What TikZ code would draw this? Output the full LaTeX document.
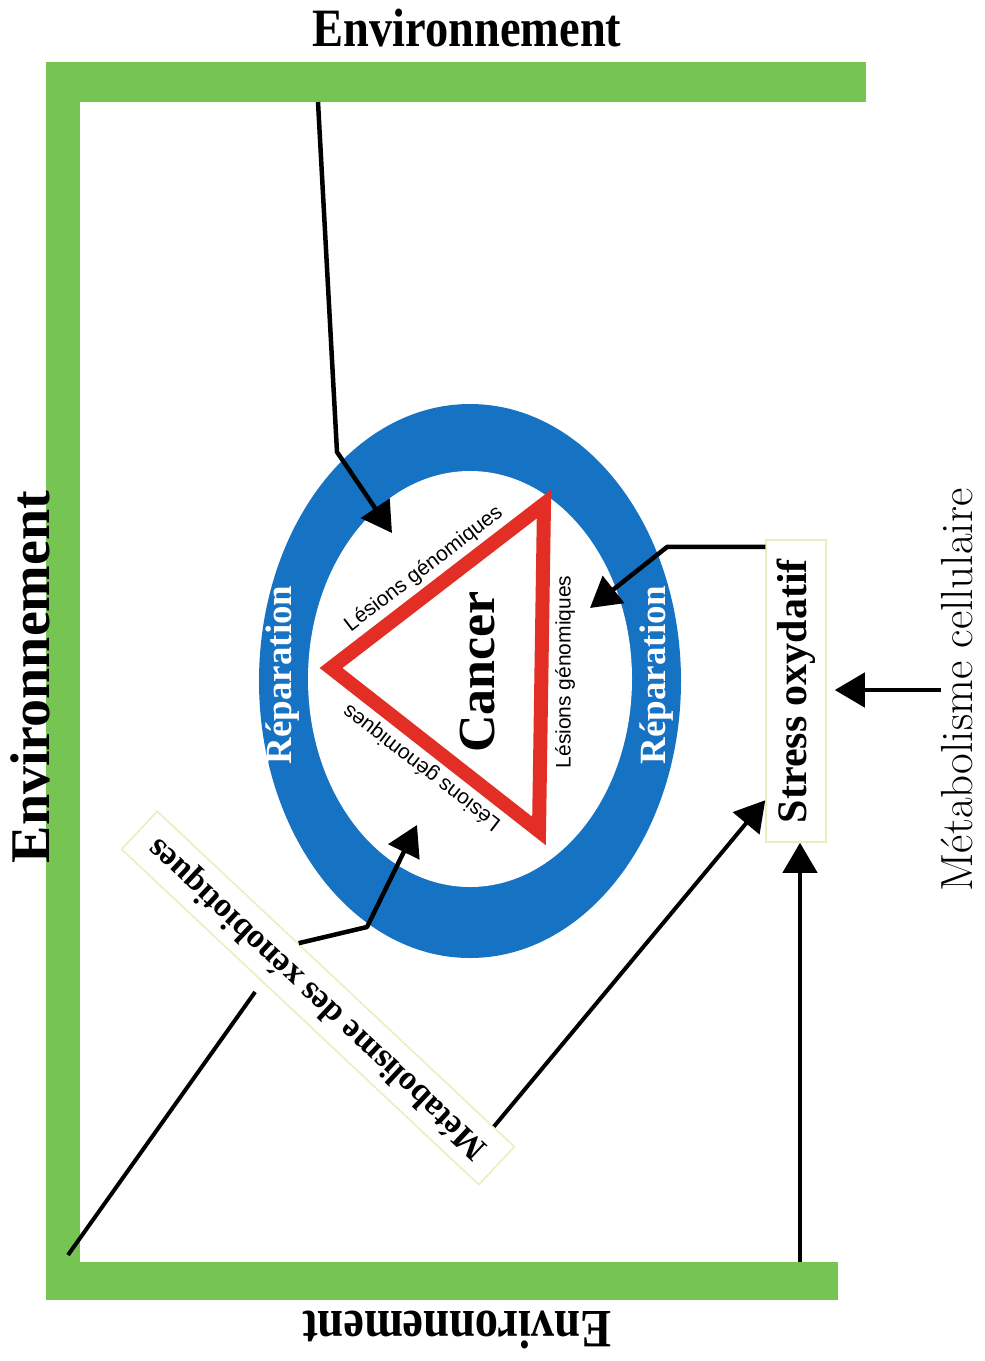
\documentclass[tikz,border=0pt]{standalone}
\usepackage{fontspec}
\newfontfamily\serifb{Liberation Serif}
\newfontfamily\serifc[FakeStretch=0.86]{Liberation Serif}
\newfontfamily\sansf{Liberation Sans}
\usetikzlibrary{arrows.meta,calc,shapes.geometric}
\definecolor{envgreen}{RGB}{118,196,82}
\definecolor{repblue}{RGB}{22,114,194}
\definecolor{lesred}{RGB}{226,46,36}
\definecolor{boxyellow}{RGB}{236,236,190}

\begin{document}
\begin{tikzpicture}[
 x=1pt,y=-1pt,
 envbar/.style={fill=envgreen,draw=none},
 envtxt/.style={font=\serifb\bfseries\fontsize{56}{60}\selectfont,inner sep=0pt},
 envcond/.style={font=\serifc\bfseries\fontsize{54}{60}\selectfont,inner sep=0pt},
 repar/.style={text=white,font=\serifb\bfseries\fontsize{37}{40}\selectfont,inner sep=0pt,rotate=90},
 lesion/.style={font=\sansf\fontsize{21}{24}\selectfont,inner sep=0pt},
 causebox/.style={draw=boxyellow,line width=1.5pt,fill=white,inner sep=0pt},
 arr/.style={-{Triangle[length=30pt,width=34pt]},line width=4.5pt,line join=round},
 link/.style={line width=4pt}
]
\useasboundingbox (0,0) rectangle (985,1361);

% cadre environnement
\fill[envbar] (46,62) rectangle (866,102);
\fill[envbar] (46,62) rectangle (80,1300);
\fill[envbar] (46,1262) rectangle (838,1300);
\node[envcond] (envtop) at (467,28) {Environnement};
\node[envtxt,rotate=90] (envleft) at (30,677) {Environnement};
\node[envcond,rotate=180] (envbot) at (457,1330) {Environnement};
\node[font=\fontsize{45}{50}\selectfont,rotate=90,inner sep=0pt] (metacell) at (957,690) {Métabolisme cellulaire};

% anneau de reparation
\node[ellipse,fill=repblue,minimum width=422pt,minimum height=554pt] (ring) at (470,681) {};
\node[ellipse,fill=white,minimum width=324pt,minimum height=416pt] (inner) at (470,679) {};
\node[repar] (repL) at (283,675) {Réparation};
\node[repar] (repR) at (657,675) {Réparation};

% triangle
\coordinate (tL) at (331,668);
\coordinate (tT) at (544,504);
\coordinate (tB) at (539,831);
\draw[lesred,line width=14pt] (tL) -- (tT) -- (tB) -- cycle;
\node[font=\serifb\bfseries\fontsize{52}{56}\selectfont,rotate=90,inner sep=0pt] (cancer) at (478,672) {Cancer};
\node[lesion,rotate=37.5] (les1) at (424,569) {Lésions génomiques};
\node[lesion,rotate=90] (les2) at (565,672) {Lésions génomiques};
\node[lesion,rotate=142.5] (les3) at (422,767) {Lésions génomiques};

% sources
\node[causebox,rotate=90,minimum width=302pt,minimum height=60pt,font=\serifb\bfseries\fontsize{42}{46}\selectfont] (stress) at (796,691) {Stress oxydatif};
\node[causebox,rotate=136.8,minimum width=490pt,minimum height=52pt,font=\serifb\bfseries\fontsize{34}{38}\selectfont] (xeno) at (318,998) {Métabolisme des xénobiotiques};

% fleches
\coordinate (topsrc) at (318,102);
\coordinate (tip1) at (392,533);
\draw[arr] (topsrc) -- (337,452) -- (tip1);

\coordinate (s2) at ($(stress.north)!0.95!(stress.north east)$);
\coordinate (tip2) at (590,608);
\draw[arr] (s2) -- ++(-98,0) -- (tip2);

\coordinate (s3) at ($(xeno.south)!0.21!(xeno.south east)$);
\coordinate (tip3) at (417,825);
\draw[arr] (s3) -- (367,927) -- (tip3);

\coordinate (corner) at (68,1255);
\draw[link,shorten >=12pt] (corner) -- ($(xeno.north)!0.21!(xeno.north east)$);

\coordinate (s5) at ($(xeno.south)!0.88!(xeno.south west)$);
\draw[arr,line width=4pt] (s5) -- ($(stress.north)!0.72!(stress.north west)$);

\coordinate (botsrc) at (800,1262);
\draw[arr] (botsrc) -- (botsrc |- stress.west);

\draw[arr,shorten >=8pt] (metacell.north) -- (metacell.north -| stress.south);
\end{tikzpicture}
\end{document}
